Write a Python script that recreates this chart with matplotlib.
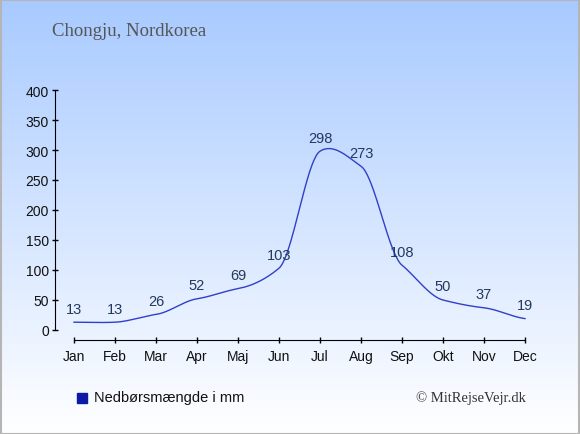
import numpy as np
import matplotlib
matplotlib.use("Agg")
import matplotlib.pyplot as plt
from matplotlib.patches import Rectangle

months = ["Jan", "Feb", "Mar", "Apr", "Maj", "Jun", "Jul", "Aug", "Sep", "Okt", "Nov", "Dec"]
rain = [13, 13, 26, 52, 69, 103, 298, 273, 108, 50, 37, 19]
yticks = [0, 50, 100, 150, 200, 250, 300, 350, 400]
title = "Chongju, Nordkorea"
legend_label = "Nedbørsmængde i mm"
credit = "© MitRejseVejr.dk"

W, H = 580, 435
fig = plt.figure(figsize=(W / 100, H / 100), dpi=100)

# background gradient
bg = fig.add_axes([0, 0, 1, 1], zorder=-10)
grad = np.linspace(0, 1, 256).reshape(-1, 1)
top = np.array([168, 202, 255]) / 255
bot = np.array([255, 255, 255]) / 255
img = top[None, None, :] * (1 - grad[:, :, None]) + bot[None, None, :] * grad[:, :, None]
bg.imshow(img, aspect="auto", extent=[0, 1, 0, 1], origin="upper")
bg.set_xlim(0, 1)
bg.set_ylim(0, 1)
bg.axis("off")
bg.add_patch(Rectangle((0.001, 0.001), 0.997, 0.997, fill=False, ec="#b5b5b5", lw=1.5,
                       transform=bg.transAxes))

# main axes: pixel geometry
x0, x1 = 55, 540
ytop, ybot = 91, 341
ax = fig.add_axes([x0 / W, 1 - ybot / H, (x1 - x0) / W, (ybot - ytop) / H])
ax.patch.set_alpha(0)
ppx = (525 - 74) / 11.0
ax.set_xlim(-(74 - x0) / ppx, 11 + (x1 - 525) / ppx)
ppy = (331 - 91) / 400.0
ax.set_ylim(-(ybot - 331) / ppy, 400)

x = np.arange(len(rain))
y = np.array(rain, dtype=float)

# smooth curve (cardinal spline with reduced tangents)
def cardinal(xp, yp, scale=0.5, n=40):
    m = np.zeros_like(yp)
    m[1:-1] = (yp[2:] - yp[:-2]) / 2.0 * scale
    m[0] = (yp[1] - yp[0]) * scale
    m[-1] = (yp[-1] - yp[-2]) * scale
    xs, ys = [], []
    for i in range(len(xp) - 1):
        t = np.linspace(0, 1, n, endpoint=False)
        h00 = 2 * t**3 - 3 * t**2 + 1
        h10 = t**3 - 2 * t**2 + t
        h01 = -2 * t**3 + 3 * t**2
        h11 = t**3 - t**2
        xs.append(xp[i] + t * (xp[i + 1] - xp[i]))
        ys.append(h00 * yp[i] + h10 * m[i] + h01 * yp[i + 1] + h11 * m[i + 1])
    xs.append([xp[-1]])
    ys.append([yp[-1]])
    return np.concatenate(xs), np.concatenate(ys)

sx, sy = cardinal(x.astype(float), y)
ax.plot(sx, sy, color="#3040c8", lw=1.0)

for xi, yi in zip(x, y):
    ax.annotate(str(int(yi)), (xi, yi), xytext=(0, 9.8), textcoords="offset points",
                ha="center", va="center", fontsize=10.5, color="#23395d",
                family="Liberation Sans")

ax.set_xticks(x)
ax.set_xticklabels(months)
ax.set_yticks(yticks)
ax.tick_params(direction="inout", length=5, width=1, labelsize=10, colors="black")
for lab in ax.get_xticklabels() + ax.get_yticklabels():
    lab.set_family("Liberation Sans")
    lab.set_color("#111111")
ax.tick_params(axis="x", pad=4)
ax.tick_params(axis="y", pad=2)
for s in ["top", "right"]:
    ax.spines[s].set_visible(False)
ax.spines["left"].set_bounds(0, 400)
ax.spines["bottom"].set_bounds(0, 11)

fig.text(52 / W, 1 - 32 / H, title, fontsize=13.5, color="#555555",
         family="Liberation Serif", va="center", ha="left")

fig.patches.append(Rectangle((77 / W, 1 - 404 / H), 10 / W, 10 / H, color="#0b1ba8",
                             transform=fig.transFigure))
fig.text(94 / W, 1 - 398 / H, legend_label, fontsize=10.5, color="#111111",
         family="Liberation Sans", va="center", ha="left")
fig.text(526 / W, 1 - 398 / H, credit, fontsize=10.5, color="#333333",
         family="Liberation Serif", va="center", ha="right")

fig.savefig("out.png", dpi=100)
